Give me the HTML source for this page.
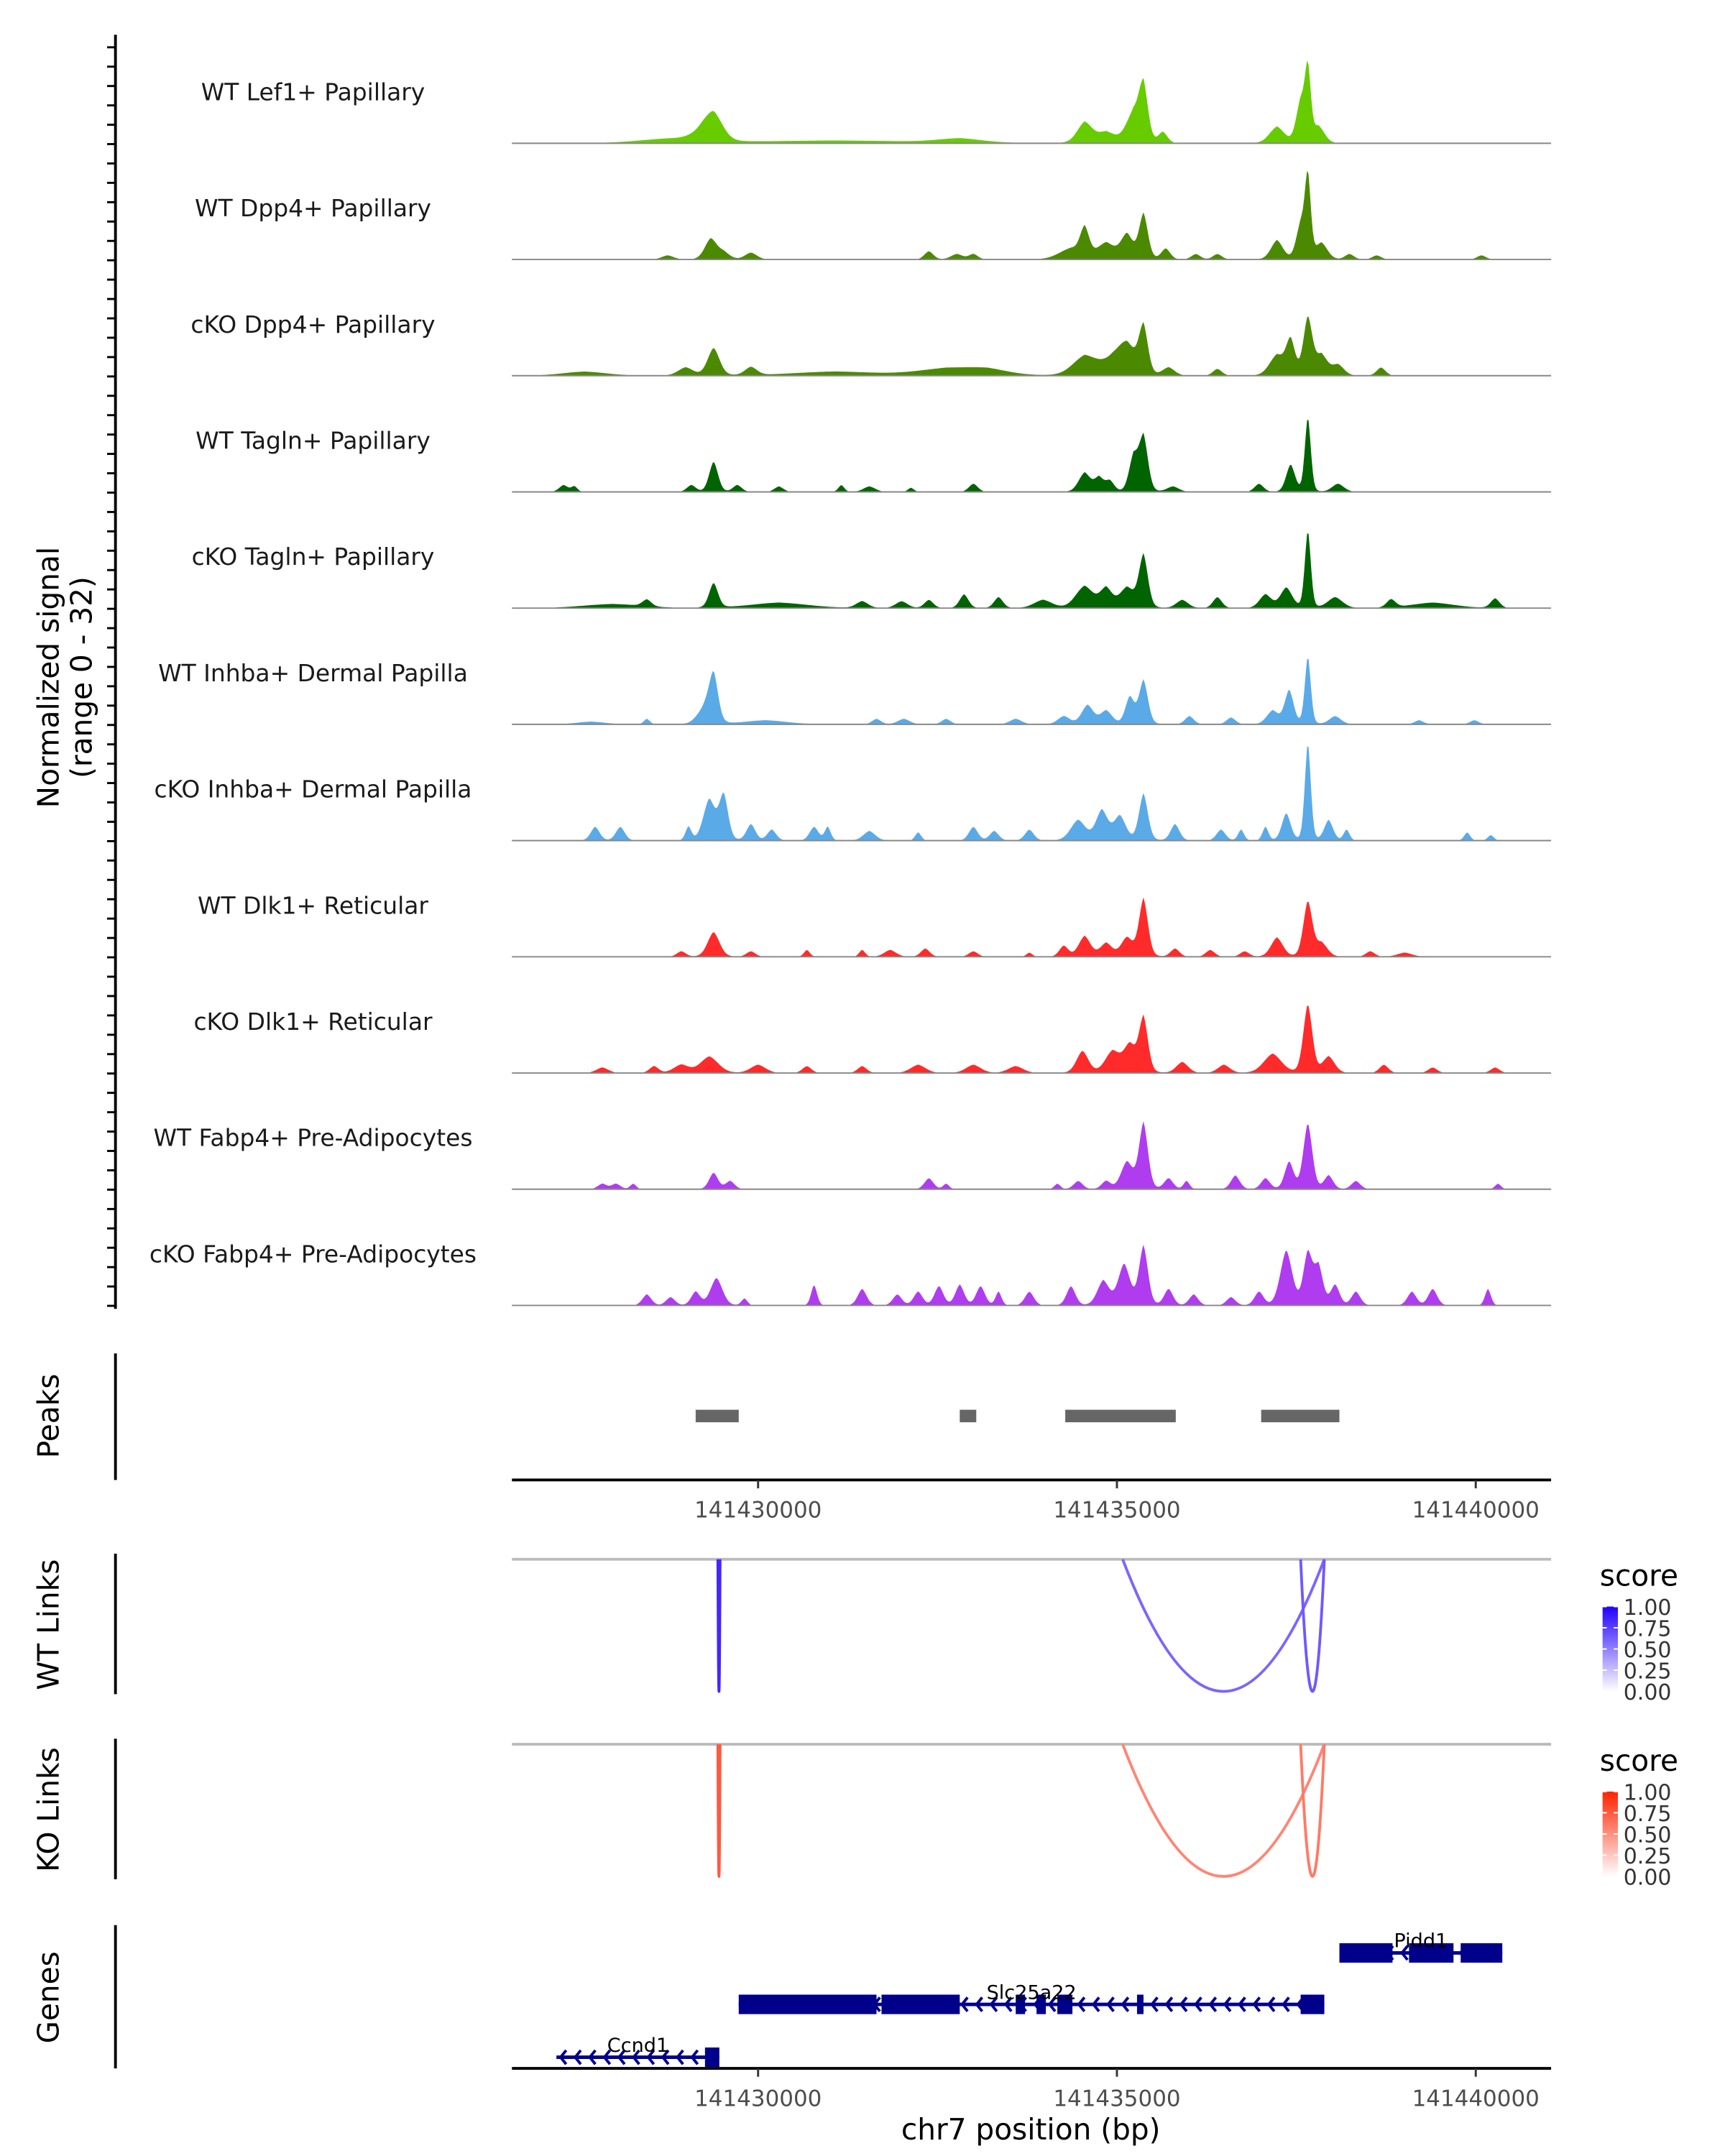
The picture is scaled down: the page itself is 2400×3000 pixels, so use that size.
<!DOCTYPE html>
<html><head><meta charset="utf-8"><style>
html,body{margin:0;padding:0;background:#fff;}
svg{display:block;font-family:"DejaVu Sans","Liberation Sans",sans-serif;}
</style></head><body>
<svg id="fig" width="2400" height="3000" viewBox="0 0 1240 1550" xmlns="http://www.w3.org/2000/svg">
<g id="tracks"></g>
<g id="left-axis"></g>
<text transform="translate(42,487) rotate(-90)" text-anchor="middle" font-size="21">Normalized signal</text>
<text transform="translate(66,487) rotate(-90)" text-anchor="middle" font-size="21">(range 0 - 32)</text>
<g id="peaks"></g>
<g id="links"></g>
<g id="genes"></g>
<g id="xaxes"></g>
</svg>
<script>
// ---------- data (genomic kb offset from 141,420,000; signal 0-32) ----------
const trackLabels = ["WT Lef1+ Papillary","WT Dpp4+ Papillary","cKO Dpp4+ Papillary","WT Tagln+ Papillary","cKO Tagln+ Papillary","WT Inhba+ Dermal Papilla","cKO Inhba+ Dermal Papilla","WT Dlk1+ Reticular","cKO Dlk1+ Reticular","WT Fabp4+ Pre-Adipocytes","cKO Fabp4+ Pre-Adipocytes"];
const trackColors = ["#66cc00","#4b8a00","#4b8a00","#006400","#006400","#5aaae8","#5aaae8","#ff2a2a","#ff2a2a","#b03cf0","#b03cf0"];
const peaksLef1WT = [[9.38,7.2,0.12],[9.23,2.4,0.16],[14.55,6,0.1],[14.85,3.2,0.12],[15.23,8.8,0.1],[15.37,15.2,0.06],[15.64,3.2,0.06],[17.23,4.8,0.1],[17.56,12,0.06],[17.66,20,0.04],[17.81,4.8,0.08],[8.74,1.2,0.39],[11.07,0.8,1.16],[12.81,1.2,0.29]];
const peaksDpp4WT = [[9.34,6,0.08],[9.52,2,0.08],[9.90,2,0.08],[8.74,1.2,0.08],[12.38,2.4,0.06],[12.77,1.6,0.08],[13.00,1.6,0.06],[14.36,3.2,0.16],[14.55,8,0.06],[14.85,4.8,0.12],[15.14,7.2,0.08],[15.37,13.2,0.06],[15.68,3.2,0.06],[16.10,1.6,0.06],[16.40,1.6,0.06],[17.23,5.6,0.08],[17.56,10,0.06],[17.66,23.2,0.04],[17.85,4.8,0.08],[18.24,1.6,0.06],[18.62,1.2,0.06],[20.08,1.2,0.06]];
const peaksDpp4KO = [[9.38,8,0.08],[8.99,2.4,0.1],[9.90,2.4,0.08],[7.58,1.2,0.29],[11.07,1.2,0.58],[12.62,2,0.39],[13.20,1.6,0.29],[14.55,5.6,0.16],[14.94,4,0.16],[15.37,13.6,0.06],[15.14,8,0.12],[15.72,2.4,0.08],[16.40,2,0.06],[17.23,6,0.1],[17.42,10,0.06],[17.66,16.8,0.06],[17.85,6,0.08],[18.08,3.2,0.08],[18.68,2.4,0.06]];
const peaksTaglnWT = [[7.29,2,0.06],[7.44,1.6,0.04],[9.38,8.8,0.06],[9.07,2,0.06],[9.71,2,0.06],[10.29,1.6,0.06],[11.16,2,0.04],[11.55,1.6,0.08],[12.13,1.2,0.04],[13.00,2.4,0.06],[14.55,5.6,0.08],[14.75,4,0.06],[14.90,3.2,0.06],[15.37,16,0.06],[15.23,10,0.06],[15.78,1.6,0.08],[16.98,2.4,0.06],[17.42,8,0.06],[17.66,22,0.04],[18.08,2.4,0.08]];
const peaksTaglnKO = [[9.38,7.2,0.06],[8.45,2,0.06],[7.97,1.2,0.39],[10.29,1.6,0.39],[11.45,2,0.08],[12.00,2,0.08],[12.38,2.4,0.06],[12.87,4,0.06],[13.35,3.2,0.06],[13.97,2.4,0.12],[14.55,6.4,0.12],[14.85,5.6,0.08],[15.37,15.2,0.06],[15.14,6,0.1],[15.91,2.4,0.08],[16.40,3.2,0.06],[17.07,4,0.08],[17.36,6,0.08],[17.66,22.8,0.04],[18.04,3.2,0.1],[18.82,2.4,0.06],[20.27,2.8,0.06],[19.40,1.6,0.29]];
const peaksInhbaWT = [[9.38,13.2,0.06],[9.26,4.8,0.1],[8.45,1.6,0.04],[7.67,0.8,0.19],[10.10,1.2,0.29],[11.65,1.6,0.06],[12.03,1.6,0.08],[12.62,1.6,0.06],[13.59,1.6,0.08],[14.26,2.4,0.08],[14.59,5.6,0.08],[14.85,4,0.08],[15.18,8,0.06],[15.37,12.8,0.06],[16.01,2.4,0.06],[16.59,2,0.06],[17.17,4,0.08],[17.40,10,0.06],[17.66,20,0.04],[18.04,2.4,0.08],[19.21,1.2,0.06],[19.98,1.2,0.06]];
const peaksInhbaKO = [[7.73,4,0.06],[8.08,4,0.06],[9.03,4,0.04],[9.32,12,0.08],[9.52,13.2,0.06],[9.90,4.8,0.06],[10.19,3.2,0.06],[10.78,4,0.06],[10.97,4,0.04],[11.55,2.8,0.08],[12.23,2.4,0.04],[13.00,4,0.06],[13.29,2.8,0.06],[13.78,3.2,0.06],[14.46,6,0.1],[14.79,8.8,0.08],[15.04,7.2,0.08],[15.37,13.6,0.06],[15.81,4.8,0.06],[16.45,3.2,0.06],[16.73,3.2,0.04],[17.07,4,0.04],[17.36,8,0.06],[17.66,28.8,0.04],[17.95,6,0.06],[18.20,3.2,0.04],[19.88,2.4,0.04],[20.21,1.6,0.04]];
const peaksDlk1WT = [[9.38,7.2,0.08],[8.93,1.6,0.06],[9.90,1.6,0.06],[10.68,2,0.04],[11.45,2,0.04],[11.84,2,0.08],[12.33,2.4,0.06],[13.00,1.6,0.06],[13.78,1.2,0.04],[14.26,3.2,0.06],[14.55,6,0.08],[14.85,4,0.08],[15.14,5.6,0.08],[15.37,16.8,0.06],[15.81,2.4,0.06],[16.30,2,0.06],[16.78,1.6,0.06],[17.23,5.6,0.08],[17.66,16,0.06],[17.85,4,0.08],[18.53,1.6,0.06],[19.01,1.2,0.1]];
const peaksDlk1KO = [[7.83,1.6,0.08],[8.55,2,0.06],[9.32,4.8,0.12],[8.93,2.4,0.1],[10.00,2.4,0.1],[10.68,2,0.06],[11.45,2,0.06],[12.23,2.4,0.1],[13.00,2.4,0.1],[13.59,2,0.1],[14.52,6.4,0.08],[14.94,6.4,0.1],[15.37,16,0.06],[15.18,8,0.08],[15.91,3.2,0.08],[16.49,2.4,0.08],[17.17,5.6,0.12],[17.66,20,0.06],[17.95,4.8,0.08],[18.72,2.4,0.06],[19.40,1.6,0.06],[20.27,1.6,0.06]];
const peaksFabp4WT = [[7.83,1.6,0.06],[8.02,1.6,0.06],[8.26,1.6,0.04],[9.38,4.8,0.06],[9.61,2.4,0.06],[12.38,3.2,0.06],[12.62,1.6,0.04],[14.17,1.6,0.04],[14.46,2.4,0.06],[14.85,2.4,0.06],[15.14,8,0.08],[15.37,19.2,0.06],[15.72,3.2,0.06],[15.97,2.4,0.04],[16.65,4,0.06],[17.07,3.2,0.06],[17.40,8,0.06],[17.66,19.2,0.06],[17.95,4,0.06],[18.33,2.4,0.06],[20.31,1.6,0.04]];
const peaksFabp4KO = [[8.45,3.2,0.06],[8.78,2.4,0.06],[9.13,4,0.06],[9.42,8,0.08],[9.81,2,0.04],[10.78,6,0.04],[11.45,4.8,0.06],[11.94,3.2,0.06],[12.23,4,0.06],[12.52,5.6,0.06],[12.81,6,0.06],[13.10,5.6,0.06],[13.35,4,0.04],[13.78,4,0.06],[14.36,5.6,0.06],[14.81,7.2,0.08],[15.10,12,0.08],[15.37,17.2,0.06],[15.72,4.8,0.06],[16.07,3.2,0.06],[16.59,2.4,0.06],[16.98,4,0.06],[17.36,16,0.08],[17.66,15.2,0.06],[17.81,11.2,0.06],[18.04,6,0.06],[18.33,4,0.06],[19.11,4,0.06],[19.40,4.8,0.06],[20.17,4.8,0.04]];
const trackPeaks = [peaksLef1WT,peaksDpp4WT,peaksDpp4KO,peaksTaglnWT,peaksTaglnKO,peaksInhbaWT,peaksInhbaKO,peaksDlk1WT,peaksDlk1KO,peaksFabp4WT,peaksFabp4KO];
const peakRegions = [[9.13,9.73],[12.81,13.04],[14.28,15.82],[17.01,18.10]];
const xTicks = [10,15,20];
const xTickLabels = ["141430000","141435000","141440000"];
const wtLinks = [[9.44,9.47,0.85],[15.08,17.89,0.6],[17.56,17.89,0.65]];
const koLinks = [[9.44,9.47,0.75],[15.08,17.89,0.55],[17.56,17.89,0.6]];
const legendTicks = ["1.00","0.75","0.50","0.25","0.00"];
const genes = [
  {name:"Pidd1",start:18.10,end:20.37,row:0,exons:[[18.10,18.84],[19.07,19.69],[19.79,20.37]]},
  {name:"Slc25a22",start:9.73,end:17.89,row:1,exons:[[9.73,11.65],[11.72,12.81],[13.59,13.72],[13.88,14.01],[14.17,14.38],[15.28,15.37],[17.56,17.89]]},
  {name:"Ccnd1",start:7.19,end:9.46,row:2,exons:[[9.26,9.46]]}
];
// ---------- scales ----------
const NS="http://www.w3.org/2000/svg";
const X0=368,X1=1115,KB0=6.57,KB1=21.05;
const xs=kb=>X0+(kb-KB0)/(KB1-KB0)*(X1-X0);
const base0=103,step=83.55,trackH=80;
function mk(tag,attrs,parent){const e=document.createElementNS(NS,tag);for(const k in attrs)e.setAttribute(k,attrs[k]);parent.appendChild(e);return e;}
// ---------- coverage tracks ----------
const tg=document.getElementById('tracks');
trackPeaks.forEach((pk,i)=>{
  const by=base0+i*step;
  const g=mk('g',{},tg);
  
  
  const lab=mk('text',{x:225,y:by-31,'text-anchor':'middle','font-size':17,fill:'#1a1a1a'},g);
  
  
  lab.textContent=trackLabels[i];
  let d=`M${X0},${by}`;
  for(let kb=KB0;kb<=KB1;kb+=0.02){
    let v=0;
    pk.forEach(p=>{const dd=(kb-p[0])/(p[2]*1.5);v+=p[1]*(0.75*Math.exp(-dd*dd)+0.25*Math.exp(-Math.abs(dd)*1.2));});
    if(v<0.2)v=0;v=Math.min(v,32);
    d+=`L${xs(kb).toFixed(2)},${(by-v/32*trackH).toFixed(2)}`;
  }
  d+=`L${X1},${by}Z`;
  const a=mk('path',{d:d,fill:trackColors[i]},g);
  
  
  const bl=mk('line',{x1:X0,x2:X1,y1:by,y2:by,stroke:'#888','stroke-width':1},g);
  
  
});
// left axis
const la=document.getElementById('left-axis');
mk('line',{x1:83,x2:83,y1:25,y2:941,stroke:'#000','stroke-width':2},la);
for(let y=34;y<=941;y+=13.92){mk('line',{x1:77,x2:83,y1:y,y2:y,stroke:'#000','stroke-width':1.5},la);}
// peaks
const pg=document.getElementById('peaks');
mk('line',{x1:83,x2:83,y1:973,y2:1064,stroke:'#000','stroke-width':2},pg);
const pt=mk('text',{transform:'translate(42,1018) rotate(-90)','text-anchor':'middle','font-size':21},pg);
pt.textContent='Peaks';
peakRegions.forEach(r=>{const b=mk('rect',{x:xs(r[0]),y:1013.5,width:xs(r[1])-xs(r[0]),height:9,fill:'#666'},pg);
  });
// x axes
const xa=document.getElementById('xaxes');
[1064,1487].forEach(yy=>{
  mk('line',{x1:X0,x2:X1,y1:yy,y2:yy,stroke:'#000','stroke-width':2},xa);
  xTicks.forEach((t,j)=>{
    mk('line',{x1:xs(t),x2:xs(t),y1:yy,y2:yy+6,stroke:'#333','stroke-width':1.5},xa);
    const tl=mk('text',{x:xs(t),y:yy+27,'text-anchor':'middle','font-size':16,fill:'#4d4d4d'},xa);
    tl.textContent=xTickLabels[j];
  });
});
const xt=mk('text',{x:741,y:1538,'text-anchor':'middle','font-size':21},xa);
xt.textContent='chr7 position (bp)';
// links
const lg=document.getElementById('links');
function linkPanel(links,top,title,hi,name){
  const g=mk('g',{},lg);
  
  mk('line',{x1:83,x2:83,y1:top-4,y2:top+97,stroke:'#000','stroke-width':2},g);
  const t=mk('text',{transform:`translate(42,${top+47}) rotate(-90)`,'text-anchor':'middle','font-size':21},g);
  t.textContent=title;
  mk('line',{x1:X0,x2:X1,y1:top,y2:top,stroke:'#bbb','stroke-width':2},g);
  const bot=top+95;
  links.forEach(l=>{
    const x1=xs(l[0]),x2=xs(l[1]),cy=2*bot-top;
    const c=mix(hi,l[2]);
    const p=mk('path',{d:`M${x1},${top} Q${(x1+x2)/2},${cy} ${x2},${top}`,fill:'none',stroke:c,'stroke-width':2},g);
    
  });
  // legend
  const st=mk('text',{x:1150,y:top+19,'font-size':21},g);
  st.textContent='score';
  const gid='grad'+name;
  const defs=mk('defs',{},g);const gr=mk('linearGradient',{id:gid,x1:0,y1:1,x2:0,y2:0},defs);
  mk('stop',{offset:0,'stop-color':'#ffffff'},gr);mk('stop',{offset:1,'stop-color':hi},gr);
  const cb=mk('rect',{x:1152,y:top+34,width:11,height:61,fill:`url(#${gid})`},g);
  
  legendTicks.forEach((s,j)=>{const ty=top+34+j*15.25;
    mk('line',{x1:1152,x2:1155,y1:ty,y2:ty,stroke:'#fff'},g);
    mk('line',{x1:1160,x2:1163,y1:ty,y2:ty,stroke:'#fff'},g);
    const lt=mk('text',{x:1167,y:ty+6,'font-size':15.5,fill:'#333'},g);
    lt.textContent=s;});
}
function mix(hi,s){const h=parseInt(hi.slice(1),16);const r=(h>>16)&255,gg=(h>>8)&255,b=h&255;
  const f=v=>Math.round(255+(v-255)*s);return `rgb(${f(r)},${f(gg)},${f(b)})`;}
linkPanel(wtLinks,1121,'WT Links','#2200ff','wt-links');
linkPanel(koLinks,1254,'KO Links','#ff2200','ko-links');
// genes
const gg=document.getElementById('genes');
mk('line',{x1:83,x2:83,y1:1384,y2:1487,stroke:'#000','stroke-width':2},gg);
const gt=mk('text',{transform:'translate(42,1436) rotate(-90)','text-anchor':'middle','font-size':21},gg);
gt.textContent='Genes';
const rowY=[1404,1441,1479];
genes.forEach(ge=>{
  const y=rowY[ge.row];const c='#00008b';
  const g=mk('g',{},gg);
  
  mk('line',{x1:xs(ge.start),x2:xs(ge.end),y1:y,y2:y,stroke:c,'stroke-width':2.5},g);
  for(let x=xs(ge.start)+3;x<xs(ge.end)-3;x+=10.5){
    mk('path',{d:`M${x+4},${y-5} L${x},${y} L${x+4},${y+5}`,fill:'none',stroke:c,'stroke-width':2},g);
  }
  ge.exons.forEach(e=>{mk('rect',{x:xs(e[0]),y:y-7,width:xs(e[1])-xs(e[0]),height:14,fill:c},g);});
  const t=mk('text',{x:(xs(ge.start)+xs(ge.end))/2,y:y-4,'text-anchor':'middle','font-size':14,fill:'#000'},g);
  t.textContent=ge.name;
});
</script>
</body></html>
